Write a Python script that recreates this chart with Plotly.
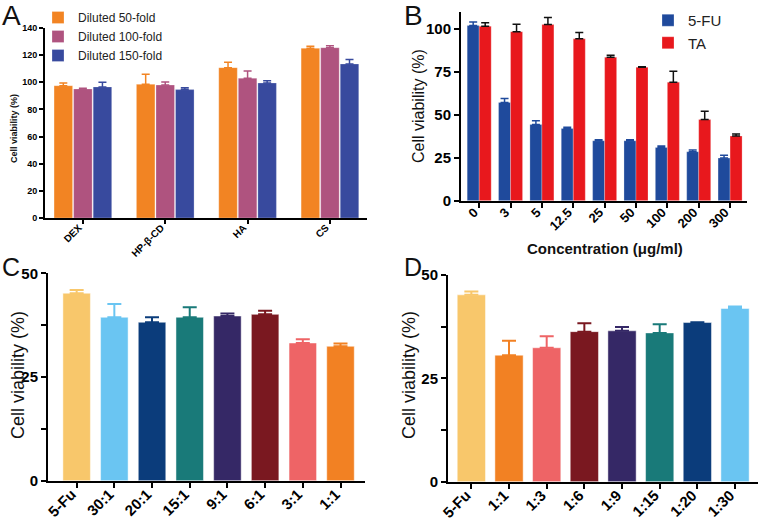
import plotly.graph_objects as go

# ---------------- Data ----------------
# Panel A
a_categories = ["DEX", "HP-β-CD", "HA", "CS"]
a_series_names = ["Diluted 50-fold", "Diluted 100-fold", "Diluted 150-fold"]
a_values = [
    [97.5, 98.5, 110.8, 125.0],
    [95.1, 98.0, 103.0, 125.5],
    [96.6, 94.6, 99.5, 113.5],
]
a_err = [
    [2.0, 7.5, 3.9, 1.5],
    [0.5, 2.2, 5.4, 1.5],
    [3.4, 1.4, 1.7, 3.2],
]
a_colors = ["#F28423", "#AF537F", "#384A9E"]

# Panel B
b_categories = ["0", "3", "5", "12.5", "25", "50", "100", "200", "300"]
b_fu = [102.0, 57.2, 44.4, 42.0, 34.9, 34.9, 31.0, 28.5, 24.8]
b_fu_err = [2.0, 2.3, 2.1, 0.8, 0.6, 0.6, 0.8, 1.0, 1.7]
b_ta = [101.5, 98.4, 102.5, 94.2, 83.5, 77.7, 69.0, 47.3, 37.6]
b_ta_err = [2.0, 4.3, 4.1, 3.7, 1.2, 0.3, 6.4, 4.8, 1.2]

# Panel C
c_categories = ["5-Fu", "30:1", "20:1", "15:1", "9:1", "6:1", "3:1", "1:1"]
c_values = [45.2, 39.4, 38.2, 39.4, 39.7, 40.1, 33.2, 32.4]
c_err = [0.8, 3.2, 1.2, 2.4, 0.6, 0.9, 0.9, 0.7]
c_colors = ["#F8C76B", "#6AC5F2", "#0B3C7B", "#197A79", "#352866", "#7A1820", "#EE6466", "#F28123"]

# Panel D
d_categories = ["5-Fu", "1:1", "1:3", "1:6", "1:9", "1:15", "1:20", "1:30"]
d_values = [45.2, 30.6, 32.4, 36.3, 36.5, 36.0, 38.5, 41.9]
d_err = [0.8, 3.5, 2.8, 2.0, 0.9, 2.1, 0.1, 0.5]
d_colors = ["#F8C76B", "#F28123", "#EE6466", "#7A1820", "#352866", "#197A79", "#0B3C7B", "#6AC5F2"]

FONT = "Liberation Sans, Arial, Helvetica, sans-serif"
W, H = 761, 522


def px_x(v):
    return v / W


def px_y(v):
    return 1 - v / H


fig = go.Figure()

# ---------------- Panel A ----------------
a_width = 0.225
a_offsets = [-0.35, -0.1125, 0.125]
for i, name in enumerate(a_series_names):
    fig.add_trace(go.Bar(
        x=a_categories, y=a_values[i], name=name,
        width=a_width, offset=a_offsets[i],
        marker=dict(color=a_colors[i], line=dict(color="rgba(255,255,255,0.5)", width=0.5)),
        error_y=dict(type="data", array=a_err[i], arrayminus=[0] * len(a_err[i]), symmetric=False,
                     color=a_colors[i], thickness=1.5, width=4),
        xaxis="x", yaxis="y", legend="legend", legendgroup=f"a{i}",
    ))

# ---------------- Panel B ----------------
b_width = 0.383
fig.add_trace(go.Bar(
    x=b_categories, y=b_fu, name="5-FU", width=b_width, offset=-b_width,
    marker=dict(color="#1F4A9C", line=dict(color="rgba(255,255,255,0.5)", width=0.5)),
    error_y=dict(type="data", array=b_fu_err, arrayminus=[0] * len(b_fu_err), symmetric=False,
                 color="#1F4A9C", thickness=1.5, width=4),
    xaxis="x2", yaxis="y2", legend="legend2", legendgroup="b0",
))
fig.add_trace(go.Bar(
    x=b_categories, y=b_ta, name="TA", width=b_width, offset=0,
    marker=dict(color="#E8181D", line=dict(color="rgba(255,255,255,0.5)", width=0.5)),
    error_y=dict(type="data", array=b_ta_err, arrayminus=[0] * len(b_ta_err), symmetric=False,
                 color="#111111", thickness=1.5, width=4),
    xaxis="x2", yaxis="y2", legend="legend2", legendgroup="b1",
))

# ---------------- Panel C ----------------
c_width = 0.73
for cat, v, e, col in zip(c_categories, c_values, c_err, c_colors):
    fig.add_trace(go.Bar(
        x=[cat], y=[v], width=c_width, offset=-c_width / 2, showlegend=False,
        marker=dict(color=col, line=dict(color="rgba(255,255,255,0.6)", width=0.8)),
        error_y=dict(type="data", array=[e], arrayminus=[0], symmetric=False,
                     color=col, thickness=2, width=7),
        xaxis="x3", yaxis="y3",
    ))

# ---------------- Panel D ----------------
d_width = 0.75
for cat, v, e, col in zip(d_categories, d_values, d_err, d_colors):
    fig.add_trace(go.Bar(
        x=[cat], y=[v], width=d_width, offset=-d_width / 2, showlegend=False,
        marker=dict(color=col, line=dict(color="rgba(255,255,255,0.6)", width=0.8)),
        error_y=dict(type="data", array=[e], arrayminus=[0], symmetric=False,
                     color=col, thickness=2, width=7),
        xaxis="x4", yaxis="y4",
    ))


def xax(domain, rng, anchor, size, ticklen=5, standoff=-8, shift=-5):
    return dict(domain=domain, anchor=anchor, type="category", range=rng,
                showline=True, linecolor="black", linewidth=2,
                ticks="outside", ticklen=ticklen, tickwidth=2, tickcolor="black",
                tickangle=-45, showgrid=False, zeroline=False, automargin=False,
                ticklabelstandoff=standoff, ticklabelshift=shift,
                tickfont=dict(family=FONT, size=size, color="black", weight="bold"))


def yax(domain, rng, anchor, size, dtick, minor=None, ticklen=5):
    d = dict(domain=domain, anchor=anchor, range=rng, dtick=dtick, tick0=0,
             showline=True, linecolor="black", linewidth=2,
             ticks="outside", ticklen=ticklen, tickwidth=2, tickcolor="black",
             showgrid=False, zeroline=False, automargin=False,
             tickfont=dict(family=FONT, size=size, color="black", weight="bold"))
    if minor:
        d["minor"] = dict(ticks="outside", dtick=minor, ticklen=ticklen, tickwidth=2,
                          tickcolor="black", showgrid=False)
    return d


fig.update_layout(
    width=W, height=H,
    margin=dict(l=0, r=0, t=0, b=0, autoexpand=False),
    paper_bgcolor="white", plot_bgcolor="white",
    font=dict(family=FONT, color="black"),
    barmode="overlay",
    hovermode=False,
    xaxis=xax([px_x(45), px_x(367)], [-0.46, 3.45], "y", 10, 4, standoff=-6, shift=-4),
    yaxis=yax([px_y(218), px_y(28)], [0, 140], "x", 9, 20, ticklen=4),
    xaxis2=xax([px_x(461), px_x(747)], [-0.58, 8.54], "y2", 13),
    yaxis2=yax([px_y(200.7), px_y(11.7)], [0, 110], "x2", 15, 25),
    xaxis3=xax([px_x(48), px_x(365)], [-0.76, 7.65], "y3", 15),
    yaxis3=yax([px_y(480.7), px_y(273.3)], [0, 50], "x3", 15, 25, minor=12.5),
    xaxis4=xax([px_x(448), px_x(758)], [-0.62, 7.61], "y4", 15),
    yaxis4=yax([px_y(481.7), px_y(275)], [0, 50], "x4", 15, 25, minor=12.5),
    legend=dict(x=px_x(38), y=px_y(3), xanchor="left", yanchor="top",
                font=dict(family=FONT, size=12, color="#222"), tracegroupgap=7.5,
                bgcolor="rgba(0,0,0,0)", traceorder="normal"),
    legend2=dict(x=px_x(648), y=px_y(4), xanchor="left", yanchor="top",
                 font=dict(family=FONT, size=15, color="#222"), tracegroupgap=21,
                 bgcolor="rgba(0,0,0,0)", traceorder="normal"),
)

annotations = [
    # panel letters
    dict(text="A", x=px_x(12), y=px_y(15), font=dict(size=28)),
    dict(text="B", x=px_x(414), y=px_y(15), font=dict(size=28)),
    dict(text="C", x=px_x(11), y=px_y(267), font=dict(size=25)),
    dict(text="D", x=px_x(413), y=px_y(267), font=dict(size=25)),
    # axis titles
    dict(text="<b>Cell viability (%)</b>", x=px_x(14), y=px_y(129), textangle=-90, font=dict(size=9)),
    dict(text="Cell viability (%)", x=px_x(419), y=px_y(106), textangle=-90, font=dict(size=16)),
    dict(text="<b>Concentration (μg/ml)</b>", x=px_x(605), y=px_y(248), font=dict(size=15)),
    dict(text="Cell viability (%)", x=px_x(18), y=px_y(375), textangle=-90, font=dict(size=18)),
    dict(text="Cell viability (%)", x=px_x(409), y=px_y(375), textangle=-90, font=dict(size=18)),
]
for a in annotations:
    a.update(xref="paper", yref="paper", showarrow=False, xanchor="center", yanchor="middle")
    a["font"] = dict(family=FONT, color="#111", **a["font"])
fig.update_layout(annotations=annotations)

# remove the default page margin so the figure sits at the window's top-left corner
fig.write_html("out.html", config={"displayModeBar": False},
               post_script="document.body.style.margin='0';")
